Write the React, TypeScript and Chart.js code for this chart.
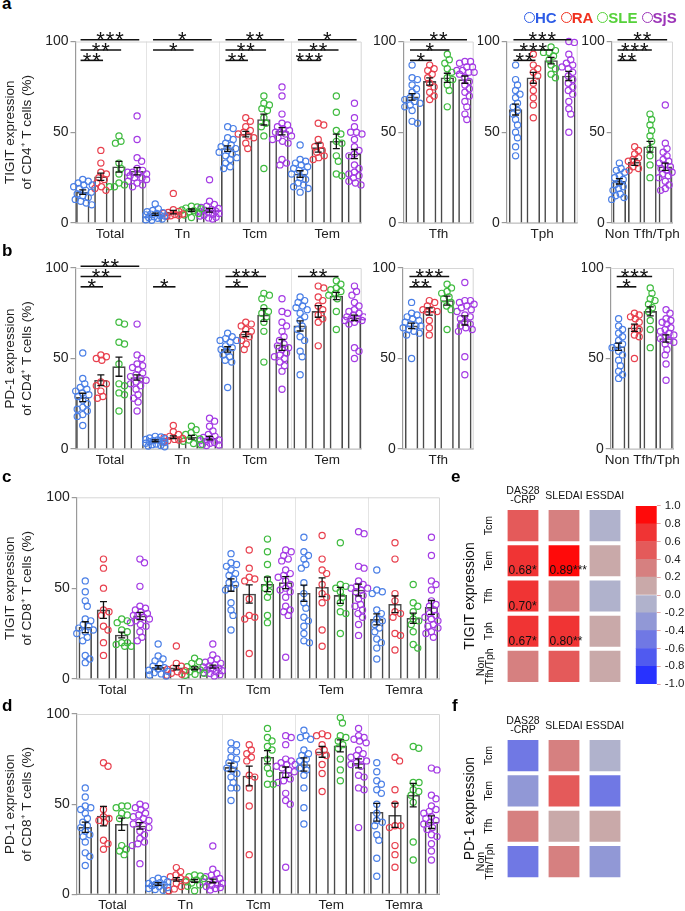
import React, { useEffect, useRef } from 'react';
import { Chart, registerables } from 'chart.js';

Chart.register(...registerables);

const FONT = '"Liberation Sans", Arial, Helvetica, sans-serif';
Chart.defaults.font.family = FONT;
Chart.defaults.color = '#222';

// ---------------- data ----------------
const GROUPS = ['HC', 'RA', 'SLE', 'SjS'];
const GROUP_COLORS = ['#4a7fe6', '#e8404e', '#3fbb3f', '#a43be4'];
const LEGEND_COLORS = ['#2d5ce6', '#f0311f', '#56d13a', '#9c35b8'];

const CD4_SUBSETS = ['Total', 'Tn', 'Tcm', 'Tem'];
const CD8_SUBSETS = ['Total', 'Tn', 'Tcm', 'Tem', 'Temra'];
const TFH = ['Tfh'];
const TPH = ['Tph'];
const NON = ['Non Tfh/Tph'];
const Y_TICKS = [0, 50, 100];
const BRACKET_LEVELS = [101, 95.3, 89.6];

// a: TIGIT expression of CD4+ T cells
const A_MEANS = [[17, 25.5, 31, 28.5], [4.8, 6, 7, 7], [41, 49, 57, 50.5], [27, 41.5, 45, 38]];
const A_SEMS = [[1.2, 2, 3, 2], [0.6, 1, 0.7, 1], [1.5, 1.5, 3, 2], [1.8, 2.5, 4, 2.5]];
const A_POINTS = [
  [[24, 23, 22, 21, 21, 20, 19, 18, 17, 16, 15, 14, 13, 12, 11, 10],
   [40, 33, 28, 27, 25, 24, 22, 20, 19, 18],
   [48, 45, 44, 33, 30, 27, 22, 21, 20, 20],
   [59, 46, 36, 34, 27, 25, 30, 29, 28, 28, 27, 26, 25, 24, 23, 22, 21, 20]],
  [[10.5, 7.8, 6.9, 6.2, 5.7, 5.3, 4.9, 4.5, 4.1, 3.8, 3.4, 3, 2.6, 2.2, 1.8, 1.5],
   [16.3, 7.3, 6.4, 5.8, 5.4, 5, 4.7, 4.3, 4, 3.7],
   [9.2, 8.8, 8.2, 7.8, 7.2, 6.8, 6.2, 5.2, 4.4, 3],
   [23.8, 12, 10.2, 9.2, 8.6, 8, 7.5, 7, 6.6, 6.1, 5.6, 5.2, 4.8, 4.3, 3.8, 3.2, 2.8, 2.2]],
  [[53, 52, 47, 46, 44, 43, 42, 41, 40, 39, 38, 37, 36, 35, 33, 31, 30],
   [58, 56, 53, 51, 50, 49, 48, 47, 44, 41],
   [70, 66, 65, 63, 62, 58, 55, 53, 48, 30],
   [75, 70, 60, 55, 54, 53, 52, 51, 50, 50, 49, 48, 47, 46, 45, 44, 35, 33, 32]],
  [[43, 35, 34, 33, 32, 31, 30, 29, 28, 27, 25, 24, 22, 21, 20, 19, 17],
   [55, 54, 46, 43, 42, 40, 39, 37, 36, 35],
   [70, 61, 51, 49, 45, 44, 37, 34, 27, 26],
   [66, 58, 53, 50, 50, 49, 46, 42, 40, 38, 37, 32, 30, 28, 27, 26, 25, 23, 22, 21]],
];
const A_BRACKETS = [
  [0, 3, '***', 0], [0, 2, '**', 1], [0, 1, '**', 2],
  [1, 3, '*', 0], [1, 2, '*', 1],
  [2, 3, '**', 0], [2, 2, '**', 1], [2, 1, '**', 2],
  [3, 3, '*', 0], [3, 2, '**', 1], [3, 1, '***', 2],
];

const A_TFH_MEANS = [[69.5, 78, 80, 79]];
const A_TFH_SEMS = [[1.8, 2, 2.5, 2]];
const A_TFH_POINTS = [[
  [87, 80, 79, 76, 74, 72, 70, 69, 68, 67, 66, 65, 64, 62, 56, 55],
  [87, 85, 84, 82, 80, 77, 75, 72, 70, 68],
  [93, 90, 88, 85, 83, 80, 79, 76, 73, 64],
  [89, 89, 88, 86, 86, 84, 84, 83, 83, 82, 80, 78, 76, 74, 72, 70, 67, 64, 60, 57],
]];
const A_TFH_BRACKETS = [[0, 3, '**', 0], [0, 2, '*', 1], [0, 1, '*', 2]];

const A_TPH_MEANS = [[62.5, 80, 89.5, 81]];
const A_TPH_SEMS = [[3, 3, 1.8, 2.5]];
const A_TPH_POINTS = [[
  [87, 79, 76, 73, 71, 69, 66, 64, 62, 60, 57, 54, 50, 47, 42, 37],
  [93, 87, 85, 83, 81, 77, 73, 69, 65, 58],
  [97, 95, 94, 94, 92, 90, 87, 85, 82, 80],
  [100, 99.5, 93, 90, 88, 87, 86, 85, 83, 81, 79, 77, 75, 73, 71, 67, 63, 60, 50],
]];
const A_TPH_BRACKETS = [[0, 3, '***', 0], [0, 2, '***', 1], [0, 1, '**', 2]];

const A_NON_MEANS = [[23, 33.5, 42, 31]];
const A_NON_SEMS = [[1.5, 1.8, 3, 2]];
const A_NON_POINTS = [[
  [33, 30, 29, 28, 26, 25, 24, 22, 21, 20, 19, 18, 16, 15, 14, 13],
  [42, 40, 38, 36, 35, 34, 33, 31, 30, 29],
  [60, 57, 54, 51, 48, 45, 41, 37, 32, 25],
  [65, 44, 41, 39, 37, 35, 34, 33, 32, 31, 30, 29, 28, 27, 26, 25, 23, 21, 19, 18],
]];
const A_NON_BRACKETS = [[0, 3, '**', 0], [0, 2, '***', 1], [0, 1, '**', 2]];

// b: PD-1 expression of CD4+ T cells
const B_MEANS = [[28.5, 38, 45.5, 39.5], [4.5, 6.5, 6.5, 6], [55, 63.5, 74, 57.5], [68, 76, 84.5, 72.5]];
const B_SEMS = [[2.3, 3, 5.3, 1.4], [0.5, 0.8, 1, 1], [1.5, 1.4, 3.5, 3], [2.8, 3.2, 2, 1.5]];
const B_POINTS = [
  [[53, 39, 36, 34, 33, 32, 31, 30, 29, 27, 25, 23, 22, 21, 19, 18, 13],
   [52, 51, 50, 49, 37, 36, 35, 32, 29, 28],
   [70, 69, 59, 58, 47, 36, 35, 31, 30, 21],
   [69, 52, 50, 47, 46, 45, 44, 42, 41, 40, 39, 38, 37, 36, 35, 33, 30, 28, 26, 21]],
  [[7, 6.6, 6.1, 5.7, 5.3, 5, 4.6, 4.3, 4, 3.6, 3.2, 2.8, 2.4, 2, 1.6, 1.2],
   [13, 9.5, 8, 7, 6.3, 5.8, 5.3, 5, 4.6, 4.2],
   [12.6, 10.7, 9, 8, 6.3, 5.5, 5, 4.3, 3, 2.4],
   [17, 15.4, 12.6, 10, 8, 7, 6.4, 5.6, 5, 4.6, 4.2, 3.6, 3.2, 2.6, 2.2, 1.9]],
  [[64, 62, 61, 60, 60, 59, 57, 56, 55, 54, 52, 51, 49, 48, 34],
   [70, 69, 68, 66, 65, 63, 62, 60, 58, 55],
   [86, 85, 83, 78, 76, 75, 73, 70, 65, 48],
   [83, 76, 75, 70, 68, 65, 62, 60, 58, 57, 56, 55, 53, 52, 51, 50, 48, 46, 43, 33]],
  [[84, 82, 81, 79, 78, 77, 75, 73, 71, 68, 66, 62, 60, 54, 51, 41],
   [90, 89, 84, 82, 79, 77, 74, 72, 70, 57],
   [93, 91, 89, 88, 87, 86, 85, 83, 76, 66],
   [90, 87, 85, 81, 79, 77, 76, 75, 74, 73, 73, 72, 72, 71, 71, 70, 69, 56, 54, 50]],
];
const B_BRACKETS = [
  [0, 3, '**', 0], [0, 2, '**', 1], [0, 1, '*', 2],
  [1, 1, '*', 2],
  [2, 2, '***', 1], [2, 1, '*', 2],
  [3, 2, '**', 1],
];

const B_TFH_MEANS = [[68, 76, 82, 71]];
const B_TFH_SEMS = [[1.5, 2, 2.5, 2.5]];
const B_TFH_POINTS = [[
  [81, 75, 74, 73, 72, 71, 70, 69, 68, 68, 67, 66, 65, 64, 63, 50],
  [82, 81, 79, 77, 77, 76, 76, 71, 67, 63],
  [91, 89, 87, 86, 84, 83, 81, 79, 77, 66],
  [92, 82, 82, 81, 80, 79, 78, 77, 76, 74, 73, 72, 70, 69, 68, 67, 66, 65, 51, 41],
]];
const B_TFH_BRACKETS = [[0, 2, '***', 1], [0, 1, '**', 2]];

const B_NON_MEANS = [[56.5, 67, 76, 61]];
const B_NON_SEMS = [[2, 2, 2.5, 2]];
const B_NON_POINTS = [[
  [72, 68, 66, 64, 62, 60, 58, 57, 56, 54, 52, 49, 46, 43, 41, 39],
  [75, 74, 73, 72, 70, 67, 66, 63, 62, 50],
  [89, 86, 83, 82, 80, 78, 76, 71, 66, 56],
  [77, 75, 72, 71, 70, 69, 67, 66, 65, 64, 63, 62, 61, 60, 59, 58, 55, 52, 47, 38],
]];
const B_NON_BRACKETS = [[0, 2, '***', 1], [0, 1, '*', 2]];

// c: TIGIT expression of CD8+ T cells
const C_MEANS = [[28.5, 38, 24.2, 34.7], [6.4, 6.2, 5.9, 6.8], [51.7, 46.8, 52.1, 53], [47.2, 50.5, 46, 49], [32.8, 41.1, 33.4, 39.4]];
const C_SEMS = [[3, 4.6, 1.6, 2], [1, 1.2, 0.8, 0.8], [3.4, 5, 4, 3.3], [4.5, 5.2, 4.4, 3.2], [3, 4.6, 2.8, 3.8]];
const C_POINTS = [
  [[54, 48, 43, 40, 33, 32, 30, 29, 28, 27, 26, 25, 23, 21, 13, 11, 9],
   [66, 61, 50, 38, 37, 35, 29, 27, 20, 13],
   [33, 32, 31, 27, 26, 20, 20, 19, 18, 18],
   [66, 64, 51, 40, 39, 38, 37, 36, 35, 35, 34, 33, 32, 31, 30, 29, 26, 23, 21]],
  [[19.3, 12.7, 11, 10, 8.3, 7, 6.2, 5.5, 4.8, 4.2, 3.5, 2.8, 2.2, 1.6],
   [18.2, 8.6, 7, 6, 5.2, 4.5, 4, 3.2, 2.6, 2],
   [11.4, 9.5, 8.6, 6.8, 5.8, 5, 4, 3.2, 2.6, 2],
   [19.3, 13.2, 11, 10.2, 9.2, 8.6, 7.8, 7.2, 6.6, 6, 5.5, 5, 4.6, 4, 3.5, 3, 2.4, 1.7]],
  [[69, 64, 63, 62, 60, 58, 57, 55, 53, 52, 50, 49, 42, 38, 35, 27],
   [71, 61, 56, 55, 54, 44, 35, 34, 33, 14],
   [77, 70, 63, 55, 52, 50, 48, 45, 35, 31],
   [71, 70, 68, 66, 65, 60, 58, 57, 56, 54, 52, 50, 49, 48, 45, 40, 38, 37, 35, 12]],
  [[78, 70, 68, 66, 63, 61, 53, 47, 42, 39, 34, 32, 29, 25, 21, 20],
   [79, 66, 60, 58, 52, 47, 45, 42, 27, 18],
   [75, 52, 51, 50, 48, 45, 42, 37, 36, 25],
   [81, 80, 62, 61, 54, 52, 51, 50, 50, 49, 48, 46, 44, 41, 40, 38, 36, 34, 30, 24]],
  [[60, 49, 48, 47, 38, 36, 33, 32, 30, 28, 26, 22, 20, 17, 11],
   [75, 66, 47, 43, 37, 36, 34, 25, 24, 16],
   [52, 42, 40, 37, 33, 32, 30, 26, 19, 17],
   [78, 68, 54, 52, 49, 43, 41, 40, 38, 36, 35, 34, 33, 32, 30, 29, 28, 26, 25, 23]],
];

// d: PD-1 expression of CD8+ T cells
const D_MEANS = [[37.2, 43.4, 38.8, 37.9], [5.7, 8.3, 7.4, 7.4], [70.4, 65.6, 76, 67.7], [72, 79, 82.3, 72.6], [45.5, 43.8, 55, 40]];
const D_SEMS = [[2.8, 5.4, 3.4, 1.8], [0.8, 1, 0.8, 1], [2.3, 5.5, 3.7, 2.9], [3.7, 3, 3.3, 2.5], [4.9, 6.7, 6.5, 3.5]];
const D_POINTS = [
  [[59, 54, 49, 48, 47, 45, 42, 40, 38, 37, 35, 33, 32, 29, 23, 21, 16],
   [73, 71, 47, 43, 42, 41, 40, 30, 28, 25],
   [49, 49, 48, 45, 44, 42, 27, 25, 24, 22],
   [50, 49, 48, 47, 45, 44, 43, 42, 41, 40, 39, 38, 37, 35, 33, 31, 29, 28, 27, 17]],
  [[8.9, 8.2, 7.6, 7, 6.5, 6, 5.6, 5.2, 4.8, 4.3, 3.8, 3.2, 2.6, 2.2],
   [14.8, 12.6, 10.7, 9.8, 8.8, 7.9, 6, 4.3, 3, 2],
   [10.7, 10.2, 9.8, 8.8, 7.9, 7, 6.2, 5.2, 4.4, 2],
   [26.8, 13.9, 11.6, 10.5, 9.8, 8.8, 7.9, 7.4, 6.8, 6.1, 5.6, 5, 4.3, 3.8, 3.2, 2.4]],
  [[84, 83, 80, 79, 76, 75, 73, 72, 70, 69, 67, 65, 62, 59, 59, 52],
   [83, 80, 78, 76, 74, 66, 65, 59, 49, 22],
   [92, 87, 85, 82, 80, 75, 70, 67, 61, 61],
   [88, 87, 83, 75, 74, 73, 72, 72, 71, 70, 69, 68, 66, 64, 63, 62, 56, 52, 50, 15]],
  [[91, 88, 87, 86, 80, 78, 77, 75, 74, 72, 70, 69, 66, 59, 48, 39],
   [89, 88, 88, 83, 80, 79, 77, 72, 67, 57],
   [98, 95, 88, 87, 85, 83, 81, 75, 69, 63],
   [92, 88, 87, 86, 85, 84, 80, 78, 77, 76, 75, 74, 73, 72, 71, 66, 65, 59, 58, 37]],
  [[73, 68, 63, 61, 58, 56, 50, 45, 41, 40, 38, 33, 30, 20, 10],
   [76, 74, 58, 50, 38, 38, 37, 27, 22, 15],
   [82, 81, 62, 62, 58, 57, 55, 51, 29, 19],
   [70, 69, 45, 55, 53, 49, 47, 46, 43, 42, 41, 40, 39, 37, 36, 33, 32, 28, 24, 19]],
];

// e / f: correlation heatmaps
const HM_COLS = [['DAS28', '-CRP'], ['SLEDAI'], ['ESSDAI']];
const E_ROWS = [['Tcm'], ['Tem'], ['Tfh'], ['Tph'], ['Non', 'Tfh/Tph']];
const E_VALUES = [[0.5, 0.3, -0.1], [0.68, 0.89, 0.1], [0.7, 0.3, -0.1], [0.67, 0.796, 0.1], [0.3, 0.55, 0.1]];
const E_SIG = [['', '', ''], ['*', '***', ''], ['*', '', ''], ['*', '**', ''], ['', '', '']];
const F_ROWS = [['Tcm'], ['Tem'], ['Tfh'], ['Non', 'Tfh/Tph']];
const F_VALUES = [[-0.5, 0.3, -0.1], [-0.3, 0.5, -0.5], [0.3, 0.1, 0.1], [-0.5, 0.3, -0.3]];
const F_SIG = [['', '', ''], ['', '', ''], ['', '', ''], ['', '', '']];
const CB_TICKS = [1.0, 0.8, 0.6, 0.4, 0.2, 0, -0.2, -0.4, -0.6, -0.8, -1.0];
// colour bins from -1.0 (index 0) to 1.0 (index 9)
const COLOR_BINS = ['#2832ff', '#505af0', '#7078e4', '#9198d6', '#b0b2cc', '#c9a9a9', '#d68080', '#e45a5a', '#f03434', '#ff0a0a'];

function binColor(v: number) {
  const i = Math.max(0, Math.min(9, Math.floor((v + 1) / 0.2 + 1e-9)));
  return COLOR_BINS[i];
}

// ---------------- helpers ----------------
// beeswarm layout (pixel offsets), limited to +-maxW
function swarm(values: number[], yPx: number, D: number, maxW: number): number[] {
  const order = values.map((_, i) => i).sort((a, b) => values[b] - values[a]);
  const placed: { x: number; y: number }[] = [];
  const out = new Array(values.length).fill(0);
  for (const i of order) {
    const y = values[i] * yPx;
    const iv: [number, number][] = [];
    for (const p of placed) {
      const dy = Math.abs(p.y - y);
      if (dy < D) {
        const w = Math.sqrt(D * D - dy * dy);
        iv.push([p.x - w, p.x + w]);
      }
    }
    const cands = [0];
    iv.forEach(([a, b]) => cands.push(a, b));
    cands.sort((a, b) => Math.abs(a) - Math.abs(b) || b - a);
    let best: number | null = null;
    for (const c of cands) {
      if (Math.abs(c) > maxW) continue;
      if (iv.every(([a, b]) => c <= a + 1e-6 || c >= b - 1e-6)) { best = c; break; }
    }
    if (best === null) {
      let bestScore = -1;
      best = 0;
      for (let c = -maxW; c <= maxW + 1e-6; c += 0.5) {
        let md = Infinity;
        for (const p of placed) md = Math.min(md, Math.hypot(p.x - c, p.y - y));
        if (md > bestScore + 1e-6) { bestScore = md; best = c; }
      }
    }
    placed.push({ x: best, y });
    out[i] = best;
  }
  return out;
}

type PanelProps = {
  box: number[];
  area: number[];
  subsets: string[];
  means: number[][];
  sems: number[][];
  points: number[][][];
  brackets: any[];
  title?: string[];
  pad: number;
};

function BarPanel(p: PanelProps) {
  const ref = useRef<HTMLCanvasElement>(null);
  useEffect(() => {
    const [L, T, W, H] = p.box;
    const [al, at, ar, ab] = p.area;
    const n = p.subsets.length;
    const xmin = -p.pad;
    const xmax = n * 4 - 1 + p.pad;
    const slotPx = (ar - al) / (xmax - xmin);
    const yPx = (ab - at) / 100;

    const barData: any[] = [];
    p.means.forEach((row, s) => row.forEach((m, g) => barData.push({ x: s * 4 + g, y: m })));

    const scatterSets = GROUPS.map((name, g) => {
      const data: any[] = [];
      p.points.forEach((grp, s) => {
        const vals = grp[g];
        const offs = swarm(vals, yPx, 5.8, 9.5);
        vals.forEach((v, i) => data.push({ x: s * 4 + g + offs[i] / slotPx, y: v }));
      });
      return {
        type: 'scatter', label: name, data,
        borderColor: GROUP_COLORS[g], backgroundColor: 'rgba(0,0,0,0)',
        pointRadius: 3.1, pointBorderWidth: 1.2, pointHoverRadius: 3,
        clip: false, order: 1,
      };
    });

    const deco = {
      id: 'deco',
      beforeDatasetsDraw(chart: any) {
        const { ctx, chartArea: ca, scales } = chart;
        const x = scales.x;
        ctx.save();
        ctx.lineWidth = 1;
        ctx.strokeStyle = '#e4e4e4';
        for (let k = 1; k < n; k++) {
          const px = Math.round(x.getPixelForValue(4 * k - 0.5)) + 0.5;
          ctx.beginPath(); ctx.moveTo(px, ca.top); ctx.lineTo(px, ca.bottom); ctx.stroke();
        }
        ctx.strokeStyle = '#d6d6d6';
        ctx.beginPath();
        ctx.moveTo(ca.left, ca.top + 0.5); ctx.lineTo(ca.right - 0.5, ca.top + 0.5); ctx.lineTo(ca.right - 0.5, ca.bottom);
        ctx.stroke();
        ctx.strokeStyle = '#9a9a9a';
        ctx.lineWidth = 1.2;
        ctx.beginPath(); ctx.moveTo(ca.left, ca.bottom); ctx.lineTo(ca.right, ca.bottom); ctx.stroke();
        ctx.restore();
      },
      afterDatasetsDraw(chart: any) {
        const { ctx, scales } = chart;
        const x = scales.x, y = scales.y;
        ctx.save();
        ctx.strokeStyle = '#111';
        ctx.lineWidth = 1.3;
        p.means.forEach((row, s) => row.forEach((m, g) => {
          const e = p.sems[s][g];
          const px = x.getPixelForValue(s * 4 + g);
          const y1 = y.getPixelForValue(m + e);
          const y2 = y.getPixelForValue(m - e);
          ctx.beginPath();
          ctx.moveTo(px, y1); ctx.lineTo(px, y2);
          ctx.moveTo(px - 3.5, y1); ctx.lineTo(px + 3.5, y1);
          ctx.moveTo(px - 3.5, y2); ctx.lineTo(px + 3.5, y2);
          ctx.stroke();
        }));
        ctx.lineWidth = 1.6;
        ctx.fillStyle = '#111';
        ctx.font = `22px ${FONT}`;
        ctx.textAlign = 'center';
        ctx.textBaseline = 'alphabetic';
        p.brackets.forEach(([s, g, stars, level]) => {
          const yy = y.getPixelForValue(BRACKET_LEVELS[level]);
          const x1 = x.getPixelForValue(s * 4 - 0.12);
          const x2 = x.getPixelForValue(s * 4 + g + 0.12);
          ctx.beginPath(); ctx.moveTo(x1, yy); ctx.lineTo(x2, yy); ctx.stroke();
          const mid = (x1 + x2) / 2;
          const k = stars.length;
          for (let j = 0; j < k; j++) {
            ctx.fillText('*', mid + (j - (k - 1) / 2) * 9.5, yy + 7.5);
          }
        });
        ctx.restore();
      },
    };

    const chart = new Chart(ref.current as HTMLCanvasElement, {
      type: 'bar',
      data: {
        datasets: [
          {
            type: 'bar', label: 'mean', data: barData,
            backgroundColor: '#ffffff', borderColor: '#4a4a4a', borderWidth: 1.6,
            barThickness: slotPx * 0.7, order: 2,
          } as any,
          ...(scatterSets as any[]),
        ],
      },
      options: {
        responsive: false,
        animation: false,
        events: [],
        layout: { padding: { left: 0, top: at - T, right: L + W - ar, bottom: 0 } },
        plugins: { legend: { display: false }, tooltip: { enabled: false } },
        scales: {
          x: {
            type: 'linear', min: xmin, max: xmax, offset: false, bounds: 'data', grace: 0,
            afterBuildTicks: (s: any) => { s.ticks = p.subsets.map((_, k) => ({ value: 4 * k + 1.5 })); },
            afterFit: (s: any) => { s.height = T + H - ab; },
            ticks: {
              autoSkip: false, maxRotation: 0, minRotation: 0, padding: 3,
              font: { size: 13.5 }, color: '#222',
              callback: (_v: any, i: number) => p.subsets[i],
            },
            grid: { display: false, drawTicks: false, offset: false },
            border: { display: false },
          },
          y: {
            type: 'linear', min: 0, max: 100,
            afterBuildTicks: (s: any) => { s.ticks = Y_TICKS.map((v) => ({ value: v })); },
            afterFit: (s: any) => { s.width = al - L; },
            ticks: { padding: 2, font: { size: 14 }, color: '#222' },
            grid: { drawOnChartArea: false, drawTicks: true, tickLength: 5, color: '#9a9a9a', lineWidth: 1.2 },
            border: { display: true, color: '#9a9a9a', width: 1.2 },
            title: p.title
              ? { display: true, text: p.title, font: { size: 13.5, lineHeight: 1.26 }, color: '#222', padding: { top: 1.5, bottom: 0 } }
              : { display: false },
          },
        },
      } as any,
      plugins: [deco],
    });
    return () => chart.destroy();
  }, []);
  const [L, T, W, H] = p.box;
  return (
    <canvas ref={ref} width={W} height={H}
      style={{ position: 'absolute', left: L, top: T, width: W, height: H }} />
  );
}

type HeatProps = {
  box: number[];
  area: number[];
  rows: string[][];
  values: number[][];
  sigs: string[][];
  title: string;
};

function Heatmap(p: HeatProps) {
  const ref = useRef<HTMLCanvasElement>(null);
  useEffect(() => {
    const [L, T, W, H] = p.box;
    const [al, at, ar, ab] = p.area;
    const nr = p.rows.length;
    const deco = {
      id: 'hmdeco',
      afterDatasetsDraw(chart: any) {
        const { ctx, chartArea: ca, scales } = chart;
        const x = scales.x, y = scales.y;
        ctx.save();
        ctx.fillStyle = '#111';
        ctx.font = `10.5px ${FONT}`;
        ctx.textAlign = 'center';
        ctx.textBaseline = 'middle';
        HM_COLS.forEach((lines, c) => {
          const cx = x.getPixelForValue(c);
          if (lines.length === 2) {
            ctx.fillText(lines[0], cx, ca.top - 17);
            ctx.fillText(lines[1], cx, ca.top - 8);
          } else {
            ctx.fillText(lines[0], cx, ca.top - 12);
          }
        });
        p.rows.forEach((lines, r) => {
          const cy = y.getPixelForValue(r + 0.5);
          ctx.save();
          if (lines.length === 2) {
            ctx.translate(ca.left - 17, cy);
            ctx.rotate(-Math.PI / 2);
            ctx.fillText(lines[0], 0, -4.3);
            ctx.fillText(lines[1], 0, 4.3);
          } else {
            ctx.translate(ca.left - 13.5, cy);
            ctx.rotate(-Math.PI / 2);
            ctx.fillText(lines[0], 0, 0);
          }
          ctx.restore();
        });
        ctx.save();
        ctx.font = `14px ${FONT}`;
        ctx.translate(ca.left - 32.5, (ca.top + ca.bottom) / 2);
        ctx.rotate(-Math.PI / 2);
        ctx.fillText(p.title, 0, 0);
        ctx.restore();
        ctx.font = `12px ${FONT}`;
        ctx.textAlign = 'left';
        ctx.textBaseline = 'alphabetic';
        p.rows.forEach((_, r) => {
          const meta = chart.getDatasetMeta(r);
          p.values[r].forEach((v, c) => {
            const sig = p.sigs[r][c];
            if (!sig) return;
            const el = meta.data[c];
            const left = el.x - el.width / 2;
            const bottom = Math.max(el.y, el.base);
            ctx.fillText(v.toFixed(2) + sig, left + 2, bottom - 3);
          });
        });
        ctx.restore();
      },
    };
    const chart = new Chart(ref.current as HTMLCanvasElement, {
      type: 'bar',
      data: {
        labels: HM_COLS.map((l) => l.join('')),
        datasets: p.rows.map((_, r) => ({
          label: p.rows[r].join(' '),
          data: p.values[r].map(() => [r + 0.03, r + 0.97]),
          backgroundColor: p.values[r].map(binColor),
          borderColor: 'rgba(255,255,255,0.55)',
          borderWidth: 1,
          borderSkipped: false,
          grouped: false,
          barPercentage: 0.8,
          categoryPercentage: 1,
        })),
      },
      options: {
        responsive: false,
        animation: false,
        events: [],
        layout: { padding: { left: al - L, top: at - T, right: L + W - ar, bottom: T + H - ab } },
        plugins: { legend: { display: false }, tooltip: { enabled: false } },
        scales: {
          x: { display: false, offset: true },
          y: { display: false, min: 0, max: nr, reverse: true },
        },
      } as any,
      plugins: [deco],
    });
    return () => chart.destroy();
  }, []);
  const [L, T, W, H] = p.box;
  return (
    <canvas ref={ref} width={W} height={H}
      style={{ position: 'absolute', left: L, top: T, width: W, height: H }} />
  );
}

function ColorBar(p: { box: number[]; area: number[] }) {
  const ref = useRef<HTMLCanvasElement>(null);
  useEffect(() => {
    const [L, T, W, H] = p.box;
    const [al, at, ar, ab] = p.area;
    const chart = new Chart(ref.current as HTMLCanvasElement, {
      type: 'bar',
      data: {
        labels: [''],
        datasets: COLOR_BINS.map((col, i) => ({
          label: String(i),
          data: [[-1 + i * 0.2, -1 + (i + 1) * 0.2]],
          backgroundColor: col,
          borderWidth: 0,
          grouped: false,
          barPercentage: 1,
          categoryPercentage: 1,
        })),
      },
      options: {
        responsive: false,
        animation: false,
        events: [],
        layout: { padding: { left: al - L, top: at - T, right: 0, bottom: T + H - ab } },
        plugins: { legend: { display: false }, tooltip: { enabled: false } },
        scales: {
          x: { display: false },
          y: {
            position: 'right', min: -1, max: 1,
            afterBuildTicks: (s: any) => { s.ticks = CB_TICKS.map((v) => ({ value: v })); },
            afterFit: (s: any) => { s.width = L + W - ar; },
            ticks: { padding: 4, font: { size: 11.5 }, color: '#222', callback: (v: any) => Number(v).toFixed(1) },
            grid: { drawOnChartArea: false, drawTicks: true, tickLength: 4, color: '#e2a6a6' },
            border: { display: false },
          },
        },
      } as any,
    });
    return () => chart.destroy();
  }, []);
  const [L, T, W, H] = p.box;
  return (
    <canvas ref={ref} width={W} height={H}
      style={{ position: 'absolute', left: L, top: T, width: W, height: H }} />
  );
}

function Letter({ x, y, t }: { x: number; y: number; t: string }) {
  return (
    <div style={{ position: 'absolute', left: x, top: y, fontFamily: FONT, fontWeight: 'bold', fontSize: 17, lineHeight: '17px', color: '#000' }}>{t}</div>
  );
}

function Legend() {
  return (
    <div style={{ position: 'absolute', left: 524, top: 9, display: 'flex', alignItems: 'center', fontFamily: FONT, fontWeight: 'bold', fontSize: 15, lineHeight: '17px' }}>
      {GROUPS.map((g, i) => (
        <div key={g} style={{ display: 'flex', alignItems: 'center', marginRight: 4 }}>
          <span style={{ display: 'inline-block', width: 11, height: 11, border: `1.3px solid ${LEGEND_COLORS[i]}`, borderRadius: '50%', boxSizing: 'border-box' }} />
          <span style={{ color: LEGEND_COLORS[i] }}>{g}</span>
        </div>
      ))}
    </div>
  );
}

export default function App() {
  return (
    <div style={{ position: 'absolute', left: 0, top: 0, width: 685, height: 911, background: '#fff', overflow: 'hidden' }}>
      <BarPanel box={[0, 22, 366, 223]} area={[75.5, 41.5, 361.7, 223]} subsets={CD4_SUBSETS}
        means={A_MEANS} sems={A_SEMS} points={A_POINTS} brackets={A_BRACKETS} pad={0.4}
        title={['TIGIT expression', 'of CD4\u207A T cells (%)']} />
      <BarPanel box={[366, 22, 112, 223]} area={[403.3, 41.5, 475.7, 223]} subsets={TFH}
        means={A_TFH_MEANS} sems={A_TFH_SEMS} points={A_TFH_POINTS} brackets={A_TFH_BRACKETS} pad={0.5} />
      <BarPanel box={[478, 22, 104, 223]} area={[506.7, 41.5, 580, 223]} subsets={TPH}
        means={A_TPH_MEANS} sems={A_TPH_SEMS} points={A_TPH_POINTS} brackets={A_TPH_BRACKETS} pad={0.5} />
      <BarPanel box={[582, 22, 103, 223]} area={[611.7, 41.5, 684, 223]} subsets={NON}
        means={A_NON_MEANS} sems={A_NON_SEMS} points={A_NON_POINTS} brackets={A_NON_BRACKETS} pad={0.5} />
      <BarPanel box={[0, 250, 366, 221]} area={[75.5, 268, 361.7, 449]} subsets={CD4_SUBSETS}
        means={B_MEANS} sems={B_SEMS} points={B_POINTS} brackets={B_BRACKETS} pad={0.4}
        title={['PD-1 expression', 'of CD4\u207A T cells (%)']} />
      <BarPanel box={[366, 250, 112, 221]} area={[402.7, 268, 475.7, 449]} subsets={TFH}
        means={B_TFH_MEANS} sems={B_TFH_SEMS} points={B_TFH_POINTS} brackets={B_TFH_BRACKETS} pad={0.5} />
      <BarPanel box={[582, 250, 103, 221]} area={[610.7, 268, 684, 449]} subsets={NON}
        means={B_NON_MEANS} sems={B_NON_SEMS} points={B_NON_POINTS} brackets={B_NON_BRACKETS} pad={0.5} />
      <BarPanel box={[0, 485, 445, 215]} area={[76.7, 497.3, 440, 679]} subsets={CD8_SUBSETS}
        means={C_MEANS} sems={C_SEMS} points={C_POINTS} brackets={[]} pad={0.47}
        title={['TIGIT expression', 'of CD8\u207A T cells (%)']} />
      <BarPanel box={[0, 702, 445, 209]} area={[76.7, 714, 440, 894.3]} subsets={CD8_SUBSETS}
        means={D_MEANS} sems={D_SEMS} points={D_POINTS} brackets={[]} pad={0.47}
        title={['PD-1 expression', 'of CD8\u207A T cells (%)']} />
      <Heatmap box={[445, 478, 185, 212]} area={[502.5, 508, 625.5, 684]} rows={E_ROWS}
        values={E_VALUES} sigs={E_SIG} title="TIGIT expression" />
      <ColorBar box={[630, 495, 55, 200]} area={[635.7, 504.3, 656.7, 688]} />
      <Heatmap box={[445, 700, 185, 190]} area={[502.5, 738, 625.5, 879.2]} rows={F_ROWS}
        values={F_VALUES} sigs={F_SIG} title="PD-1 expression" />
      <Legend />
      <Letter x={2} y={-5} t="a" />
      <Letter x={2} y={242} t="b" />
      <Letter x={2} y={468} t="c" />
      <Letter x={2} y={697} t="d" />
      <Letter x={451} y={468} t="e" />
      <Letter x={452} y={697} t="f" />
    </div>
  );
}
